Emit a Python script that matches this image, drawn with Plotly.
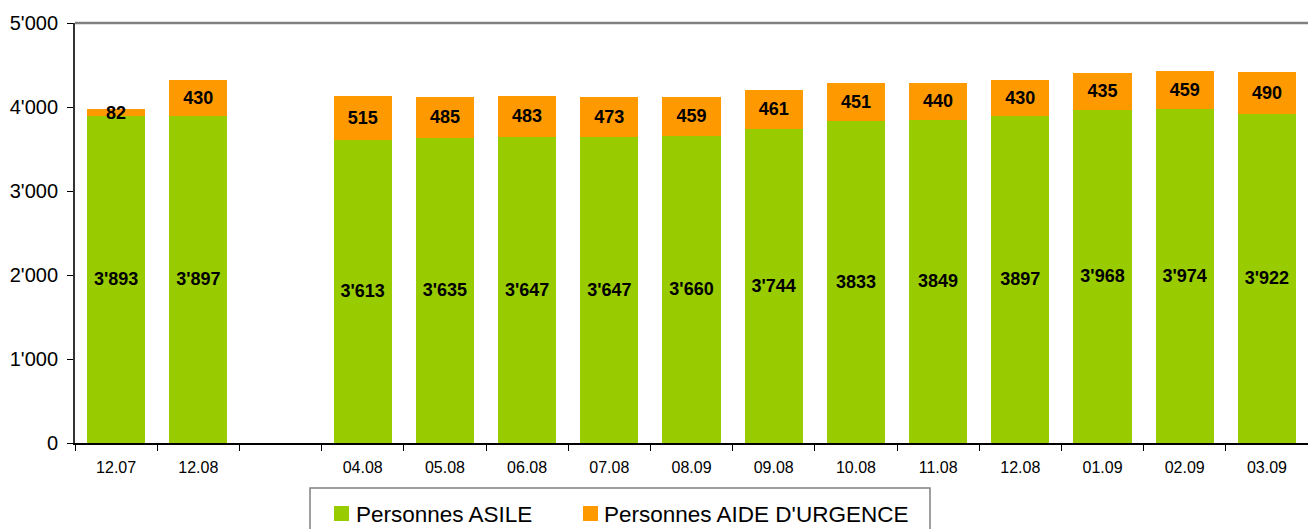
import plotly.graph_objects as go

categories = ["12.07", "12.08", "", "04.08", "05.08", "06.08", "07.08", "08.09",
              "09.08", "10.08", "11.08", "12.08", "01.09", "02.09", "03.09"]
asile = [3893, 3897, None, 3613, 3635, 3647, 3647, 3660, 3744, 3833, 3849, 3897, 3968, 3974, 3922]
urgence = [82, 430, None, 515, 485, 483, 473, 459, 461, 451, 440, 430, 435, 459, 490]
asile_labels = ["3'893", "3'897", "", "3'613", "3'635", "3'647", "3'647", "3'660",
                "3'744", "3833", "3849", "3897", "3'968", "3'974", "3'922"]
urgence_labels = ["82", "430", "", "515", "485", "483", "473", "459",
                  "461", "451", "440", "430", "435", "459", "490"]
series_names = ["Personnes ASILE", "Personnes AIDE D'URGENCE"]
series_colors = ["#99CC00", "#FF9900"]
y_ticks = [0, 1000, 2000, 3000, 4000, 5000]

xpos = list(range(len(categories)))
FONT = "Liberation Sans, Arial, sans-serif"

fig = go.Figure()
for vals, labels, name, color in [(asile, asile_labels, series_names[0], series_colors[0]),
                                  (urgence, urgence_labels, series_names[1], series_colors[1])]:
    fig.add_trace(go.Bar(
        x=xpos, y=vals, name=name, marker=dict(color=color, line=dict(width=0)),
        text=labels, textposition="inside", insidetextanchor="middle", textangle=0,
        textfont=dict(family=FONT, size=18, color="black", weight="bold"), width=0.71,
        showlegend=False,
    ))

# custom legend (box, swatches, labels) in paper coordinates
W_PLOT = 1233.0
H_PLOT = 420.0
def px(x):
    return (x - 75) / W_PLOT
def py(y):
    return (443 - y) / H_PLOT

shapes = [
    dict(type="line", xref="paper", yref="paper", x0=0, x1=1, y0=1, y1=1,
         line=dict(color="#808080", width=2.5)),
    dict(type="rect", xref="paper", yref="paper", x0=px(310), x1=px(930), y0=py(545), y1=py(488),
         line=dict(color="#808080", width=1.5), fillcolor="white", layer="above"),
]
annotations = []
for i, (mx, tx) in enumerate([(334, 354), (583, 602)]):
    shapes.append(dict(type="rect", xref="paper", yref="paper", x0=px(mx), x1=px(mx + 15),
                       y0=py(521), y1=py(506), line=dict(width=0), fillcolor=series_colors[i],
                       layer="above"))
    annotations.append(dict(xref="paper", yref="paper", x=px(tx), y=py(514), xanchor="left",
                            yanchor="middle", text=series_names[i], showarrow=False,
                            font=dict(family=FONT, size=22.5, color="black")))

fig.update_layout(
    barmode="stack",
    width=1308, height=529,
    margin=dict(l=75, r=0, t=23, b=86),
    paper_bgcolor="white", plot_bgcolor="white",
    separators=".'",
    font=dict(family=FONT, color="black"),
    uniformtext=dict(mode="show", minsize=18),
    showlegend=False,
    xaxis=dict(
        range=[-0.5, len(categories) - 0.5],
        tickmode="array", tickvals=xpos, ticktext=categories,
        ticks="", ticklen=0,
        tickfont=dict(family=FONT, size=16, color="black"),
        showline=True, linecolor="black", linewidth=1.5,
        showgrid=False, zeroline=False,
        minor=dict(tickmode="linear", tick0=0.5, dtick=1, ticks="outside", ticklen=6,
                   tickcolor="black", tickwidth=1, showgrid=False),
        ticklabelstandoff=9,
    ),
    yaxis=dict(
        range=[0, 5000], tickmode="array", tickvals=y_ticks, tickformat=",",
        ticks="outside", ticklen=6, tickcolor="black", tickwidth=1,
        tickfont=dict(family=FONT, size=20, color="black"),
        showline=True, linecolor="#333333", linewidth=2,
        showgrid=False, zeroline=False,
        ticklabelstandoff=5,
    ),
    shapes=shapes,
    annotations=annotations,
)

fig.write_html("out.html", config={"displayModeBar": False},
               post_script="document.body.style.margin='0';")
